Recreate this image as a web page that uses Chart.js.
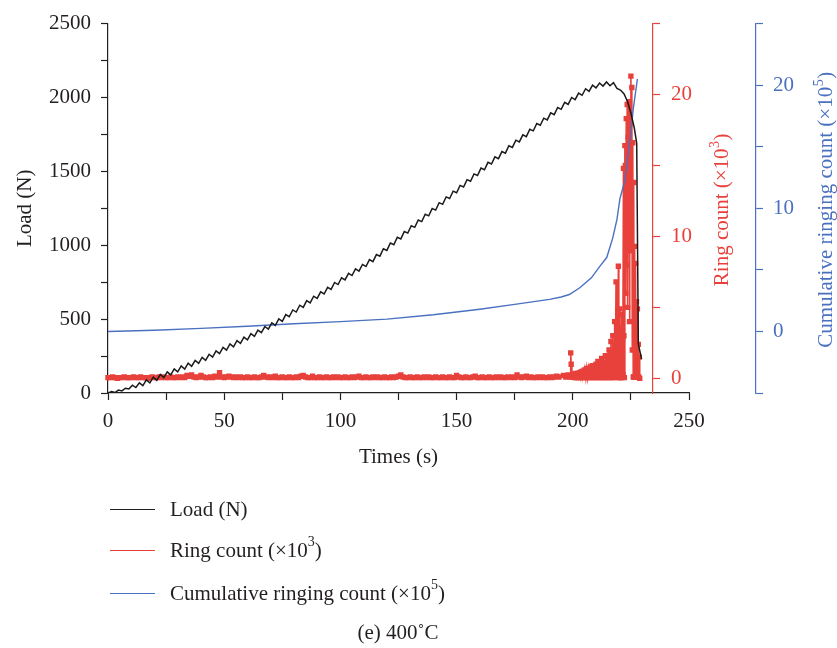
<!DOCTYPE html>
<html>
<head>
<meta charset="utf-8">
<script src="https://cdn.jsdelivr.net/npm/chart.js@4.4.0/dist/chart.umd.min.js"></script>
<style>
  body { margin: 0; background: #fff; }
  #wrap { position: relative; width: 837px; height: 648px; font-family: "Liberation Serif", serif; color: #231f20; }
  .row { position: absolute; left: 110px; height: 24px; display: flex; align-items: center; font-size: 21px; white-space: nowrap; }
  .swatch { width: 45px; height: 0; border-top: 1.5px solid; margin-right: 15px; }
  sup { font-size: 14px; line-height: 0; vertical-align: baseline; position: relative; top: -8px; }
  #caption { position: absolute; left: 398px; top: 620px; transform: translateX(-50%); font-size: 21px; white-space: nowrap; }
</style>
</head>
<body>
<div id="wrap">
  <canvas id="chart" width="837" height="648"></canvas>
  <div class="row" style="top:497px"><span class="swatch" style="border-color:#231f20"></span>Load (N)</div>
  <div class="row" style="top:538px"><span class="swatch" style="border-color:#e8413c"></span>Ring count (×10<sup>3</sup>)</div>
  <div class="row" style="top:581px"><span class="swatch" style="border-color:#4a70c0"></span>Cumulative ringing count (×10<sup>5</sup>)</div>
  <div id="caption">(e) 400˚C</div>
</div>
<script>
// load curve (N) vs time (s)
var loadTimes = [0,1.5,3,4.5,6,7.5,9,10.5,12,13.5,15,16.5,18,19.5,21,22.5,24,25.5,27,28.5,
  30,31.5,33,34.5,36,37.5,39,40.5,42,43.5,45,46.5,48,49.5,51,52.5,54,55.5,57,58.5,
  60,61.5,63,64.5,66,67.5,69,70.5,72,73.5,75,76.5,78,79.5,81,82.5,84,85.5,87,88.5,
  90,91.5,93,94.5,96,97.5,99,100.5,102,103.5,105,106.5,108,109.5,111,112.5,114,115.5,117,118.5,
  120,121.5,123,124.5,126,127.5,129,130.5,132,133.5,135,136.5,138,139.5,141,142.5,144,145.5,147,148.5,
  150,151.5,153,154.5,156,157.5,159,160.5,162,163.5,165,166.5,168,169.5,171,172.5,174,175.5,177,178.5,
  180,181.5,183,184.5,186,187.5,189,190.5,192,193.5,195,196.5,198,199.5,201,202.5,204,205.5,207,208.5,
  210,211.5,213,214.5,216,217.5,219,220.5,222,223.5,225,226.5,227.5,228.2,229.6];
var loadValues = [0,10,3,20,14,32,27,53,37,69,50,89,68,107,86,125,104,143,123,163,
  143,183,162,202,181,221,201,241,221,262,243,285,267,309,290,332,313,354,336,378,
  360,402,384,426,408,450,432,475,458,502,485,531,516,562,548,594,579,625,610,655,
  640,685,670,715,701,748,734,780,765,810,795,840,825,870,856,903,889,937,926,976,
  965,1015,1004,1054,1043,1093,1082,1132,1121,1171,1160,1210,1199,1249,1238,1288,1277,1327,1316,1366,
  1355,1405,1394,1444,1433,1483,1472,1522,1511,1561,1550,1598,1586,1634,1623,1673,1662,1711,1699,1747,
  1735,1785,1774,1824,1812,1860,1848,1896,1884,1932,1920,1967,1953,2000,1985,2030,2015,2059,2041,2083,
  2065,2098,2077,2105,2079,2100,2061,2050,2025,1975,1895,1790,1690,330,230];

// ring count (x10^3): steady band first, then the burst before failure
var ringTimes = [0,1,2,3,4,5,6,7,8,9,10,11,12,13,14,15,16,17,18,19,
  20,21,22,23,24,25,26,27,28,29,30,31,32,33,34,35,36,37,38,39,
  40,41,42,43,44,45,46,47,48,49,50,51,52,53,54,55,56,57,58,59,
  60,61,62,63,64,65,66,67,68,69,70,71,72,73,74,75,76,77,78,79,
  80,81,82,83,84,85,86,87,88,89,90,91,92,93,94,95,96,97,98,99,
  100,101,102,103,104,105,106,107,108,109,110,111,112,113,114,115,116,117,118,119,
  120,121,122,123,124,125,126,127,128,129,130,131,132,133,134,135,136,137,138,139,
  140,141,142,143,144,145,146,147,148,149,150,151,152,153,154,155,156,157,158,159,
  160,161,162,163,164,165,166,167,168,169,170,171,172,173,174,175,176,177,178,179,
  180,181,182,183,184,185,186,187,188,189,190,191,192,193,194,
  196,197,198,198.8,199.1,199.3,199.6,
  200.4,200.8,201.2,201.6,202,202.4,202.8,203.2,203.6,204,204.4,204.8,205.2,205.6,206,206.4,206.8,207.2,207.6,208,
  208.4,208.8,209.2,209.6,210,210.4,210.8,211.2,211.6,212,212.4,212.8,213.2,213.6,214,214.4,214.8,215.2,215.6,
  216,216.2,216.4,216.6,216.8,217,217.2,217.4,217.6,217.8,218,218.2,218.4,218.6,218.8,219,219.2,219.4,219.6,219.8,
  220,220.2,220.4,220.6,220.8,221,221.2,221.4,221.6,221.8,222,222.2,222.4,222.6,222.8,223,223.2,223.4,223.6,223.8,
  224,224.2,224.4,224.6,224.8,225,225.2,225.4,225.6,225.8,226,226.2,226.4,226.6,226.8,227,227.2,227.4,227.6,227.8,
  228,228.2,228.4,228.6,228.8];
var ringValues = [0.05,0.05,0.1,0.05,0,0.05,0.05,0.1,0.05,0.05,0.05,0.1,0.05,0.05,0.1,0.05,0.05,0,0.05,0.1,
  0.05,0.05,0.1,0.05,0.1,0.05,0.05,0.1,0.05,0.05,0.1,0.05,0.1,0.05,0.2,0.15,0.25,0.1,0.05,0.1,
  0.2,0.1,0.05,0.05,0.1,0.05,0.15,0.1,0.4,0.1,0.05,0.1,0.15,0.1,0.05,0.1,0.05,0.1,0.05,0.05,
  0.1,0.05,0.05,0.1,0.05,0.05,0.1,0.2,0.1,0.05,0.1,0.05,0.15,0.05,0.05,0.1,0.05,0.05,0.1,0.05,
  0.05,0.1,0.05,0.15,0.2,0.1,0.05,0.05,0.15,0.05,0.05,0.1,0.05,0.05,0.1,0.05,0.05,0.1,0.05,0.1,
  0.05,0.05,0.1,0.05,0.05,0.1,0.05,0.1,0.15,0.05,0.05,0.1,0.05,0.05,0.1,0.05,0.1,0.05,0.05,0.1,
  0.05,0.05,0.1,0.05,0.1,0.15,0.25,0.1,0.05,0.05,0.1,0.05,0.05,0.1,0.05,0.05,0.1,0.05,0.1,0.05,
  0.05,0.1,0.05,0.05,0.1,0.05,0.05,0.1,0.05,0.05,0.2,0.1,0.05,0.05,0.1,0.05,0.05,0.1,0.15,0.05,
  0.05,0.1,0.05,0.05,0.1,0.05,0.05,0.1,0.05,0.1,0.05,0.05,0.1,0.05,0.1,0.05,0.25,0.1,0.05,0.1,
  0.15,0.05,0.1,0.05,0.05,0.1,0.05,0.1,0.05,0.05,0.1,0.05,0.1,0.15,0.1,
  0.2,0.1,0.25,0.1,1.8,1.0,0.1,
  0.3,0.05,0.35,0.05,0.3,0.05,0.4,0.05,0.45,0.05,0.5,0.05,0.6,0.05,0.7,0.05,0.65,0.05,0.8,0.05,
  0.9,0.05,0.85,0.05,1.0,0.05,1.2,0.05,1.0,0.05,1.4,0.05,1.1,0.05,1.6,0.05,1.3,0.05,2.0,
  0.05,1.8,2.6,0.3,1.5,0.05,3.0,1.2,0.05,2.4,4.0,0.3,2.2,6.8,0.5,3.2,1.0,0.05,7.9,2.5,
  0.05,4.9,1.5,0.05,3.5,4.5,0.05,2.8,0.3,14.8,3.0,0.05,16.4,15.0,6.0,18.3,8.0,19.3,5.0,17.0,
  9.0,19.5,4.0,18.0,12.0,21.3,9.0,20.5,2.0,16.6,0.1,13.8,0.1,9.3,0.1,8.1,0.1,5.4,0.1,4.9,
  0.1,2.4,0.1,1.5,0];

// cumulative ringing count (x10^5)
var cumTimes = [0,20,40,60,80,100,120,140,160,175,190,195,198.5,203,208,211.7,214.6,217.2,219,220.3,222.5,224.6,226.1,227.8];
var cumValues = [0,0.1,0.25,0.42,0.62,0.8,1.0,1.35,1.8,2.2,2.6,2.8,3.0,3.55,4.35,5.3,6.0,7.6,9.1,10.8,12.3,15.6,18.2,20.5];

var INK = '#231f20';
var RED = '#e8413c';
var BLUE = '#4a70c0';
var FONT = { family: "'Liberation Serif', serif", size: 21 };

function pairs(xs, ys) {
    return xs.map(function (t, i) { return { x: t, y: ys[i] }; });
}

// put the two right axes where the original has them
var axisPlacer = {
    id: 'axisPlacer',
    afterLayout: function (chart) {
        var area = chart.chartArea;
        var ring = chart.scales.yRing, cum = chart.scales.yCum;
        var w1 = ring.width, w2 = cum.width;
        ring.left = area.right - 36; ring.right = ring.left + w1;
        cum.left = area.right + 67; cum.right = cum.left + w2;
    }
};

function drawVertical(ctx, x, y, parts, color) {
    ctx.save();
    ctx.translate(x, y);
    ctx.rotate(-Math.PI / 2);
    ctx.fillStyle = color;
    ctx.textAlign = 'left';
    ctx.textBaseline = 'middle';
    var big = "21px 'Liberation Serif', serif", small = "14px 'Liberation Serif', serif";
    ctx.font = big;
    var w0 = ctx.measureText(parts[0]).width, w2 = ctx.measureText(parts[2]).width;
    ctx.font = small;
    var w1 = ctx.measureText(parts[1]).width;
    var cx = -(w0 + w1 + w2) / 2;
    ctx.font = big; ctx.fillText(parts[0], cx, 0); cx += w0;
    ctx.font = small; ctx.fillText(parts[1], cx + 0.5, -7); cx += w1 + 1;
    ctx.font = big; ctx.fillText(parts[2], cx, 0);
    ctx.restore();
}

var rightTitles = {
    id: 'rightTitles',
    afterDraw: function (chart) {
        var area = chart.chartArea;
        var midY = (area.top + area.bottom) / 2 + 2;
        drawVertical(chart.ctx, chart.scales.yRing.left + 69, midY, ['Ring count (×10', '3', ')'], RED);
        drawVertical(chart.ctx, chart.scales.yCum.left + 70, midY, ['Cumulative ringing count (×10', '5', ')'], BLUE);
    }
};

function axisColors(color) {
    return {
        border: { color: color, width: 1.2 },
        grid: { drawOnChartArea: false, tickLength: 7, tickColor: color, tickWidth: 1.2 }
    };
}

document.addEventListener('DOMContentLoaded', function () {
    var ctx = document.getElementById('chart').getContext('2d');
    new Chart(ctx, {
        type: 'line',
        data: {
            datasets: [
                {
                    label: 'Load (N)',
                    data: pairs(loadTimes, loadValues),
                    yAxisID: 'y',
                    borderColor: '#1a1a1a',
                    borderWidth: 1.5,
                    pointRadius: 0,
                    order: 0
                },
                {
                    label: 'Cumulative ringing count (×10⁵)',
                    data: pairs(cumTimes, cumValues),
                    yAxisID: 'yCum',
                    borderColor: BLUE,
                    borderWidth: 1.4,
                    pointRadius: 0,
                    order: 1
                },
                {
                    label: 'Ring count (×10³)',
                    data: pairs(ringTimes, ringValues),
                    yAxisID: 'yRing',
                    borderColor: RED,
                    borderWidth: 1.6,
                    pointStyle: 'rect',
                    pointRadius: 3.8,
                    pointBorderWidth: 0,
                    pointBackgroundColor: RED,
                    clip: { left: 3, top: 0, right: 0, bottom: 3 },
                    order: 2
                }
            ]
        },
        options: {
            responsive: false,
            animation: false,
            layout: { padding: { top: 15, right: 0, bottom: 175, left: 0 } },
            plugins: { legend: { display: false }, tooltip: { enabled: false } },
            scales: {
                x: Object.assign(axisColors(INK), {
                    type: 'linear', min: 0, max: 250,
                    ticks: { stepSize: 25, autoSkip: false, maxRotation: 0, padding: 9, color: INK, font: FONT,
                        callback: function (v) { return v % 50 === 0 ? v : ''; } },
                    title: { display: true, text: 'Times (s)', color: INK, font: FONT, padding: { top: 0, bottom: 3 } },
                    afterFit: function (s) { s.height = 80; }
                }),
                y: Object.assign(axisColors(INK), {
                    position: 'left', min: 0, max: 2500,
                    ticks: { stepSize: 250, autoSkip: false, padding: 10, color: INK, font: FONT,
                        callback: function (v) { return v % 500 === 0 ? v : ''; } },
                    title: { display: true, text: 'Load (N)', color: INK, font: FONT, padding: { top: 13, bottom: 0 } },
                    afterFit: function (s) { s.width = 108; }
                }),
                yRing: Object.assign(axisColors(RED), {
                    position: 'right', min: -1.03, max: 25,
                    ticks: { stepSize: 5, includeBounds: false, autoSkip: false, padding: 11, color: RED, font: FONT,
                        callback: function (v) { return v % 10 === 0 ? v : ''; } },
                    afterFit: function (s) { s.width = 100; }
                }),
                yCum: Object.assign(axisColors(BLUE), {
                    position: 'right', min: -5, max: 25,
                    ticks: { stepSize: 5, autoSkip: false, padding: 10, color: BLUE, font: FONT,
                        callback: function (v) { return v % 10 === 0 ? v : ''; } },
                    afterFit: function (s) { s.width = 48; }
                })
            }
        },
        plugins: [axisPlacer, rightTitles]
    });
});
</script>
</body>
</html>
